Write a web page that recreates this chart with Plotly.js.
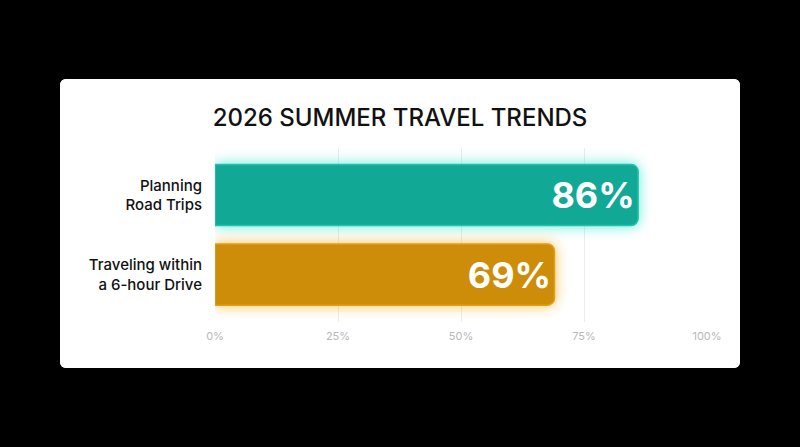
<!DOCTYPE html>
<html>
<head>
<meta charset="utf-8">
<script src="https://cdn.plot.ly/plotly-3.0.1.min.js"></script>
<style>
    html, body {
        margin: 0;
        padding: 0;
        background: #000000;
        width: 800px;
        height: 447px;
        overflow: hidden;
    }
    #card {
        position: absolute;
        left: 60px;
        top: 79px;
        width: 680px;
        height: 289px;
        background: #ffffff;
        border-radius: 6px;
        overflow: hidden;
    }
    #chart {
        width: 680px;
        height: 289px;
    }
    /* soft glow round each bar */
    #chart .barlayer .point:nth-child(1) path {
        filter: drop-shadow(0 0 7px rgba(60, 230, 210, 0.8));
    }
    #chart .barlayer .point:nth-child(2) path {
        filter: drop-shadow(0 0 7px rgba(250, 175, 30, 0.75));
    }
</style>
</head>
<body>
<div id="card"><div id="chart"></div></div>
<script>
'use strict';

// Chart data
let categories = ['Planning<br>Road Trips', 'Traveling within<br>a 6-hour Drive'];
let values = [86, 69];
let barColors = ['#12a896', '#cd8d08'];
let edgeColors = ['#22c2ae', '#e0a010'];
let tickValues = [0, 25, 50, 75, 100];
let tickLabels = ['0%', '25%', '50%', '75%', '100%'];

function makeLabels(data) {
    let arr = [];
    for (let v of data) {
        arr.push(v + '%');
    }
    return arr;
}

let trace = {
    type: 'bar',
    orientation: 'h',
    x: values,
    y: categories,
    text: makeLabels(values),
    textposition: 'inside',
    insidetextanchor: 'end',
    textangle: 0,
    textfont: {
        family: 'Inter, Roboto, sans-serif',
        size: 36,
        color: '#ffffff',
        weight: 700
    },
    marker: {
        color: barColors,
        line: {color: edgeColors, width: 1.5},
        cornerradius: 7
    },
    hoverinfo: 'none'
};

let layout = {
    width: 680,
    height: 289,
    margin: {l: 155, r: 33, t: 69, b: 46},
    paper_bgcolor: '#ffffff',
    plot_bgcolor: '#ffffff',
    showlegend: false,
    bargap: 0.23,
    title: {
        text: '2026 SUMMER TRAVEL TRENDS',
        font: {
            family: 'Inter, Roboto, sans-serif',
            size: 24,
            color: '#111111',
            weight: 500
        },
        x: 0.5,
        xanchor: 'center',
        y: 0.865,
        yanchor: 'middle'
    },
    xaxis: {
        range: [0, 100],
        tickvals: tickValues,
        ticktext: tickLabels,
        showgrid: true,
        gridcolor: '#ebebeb',
        gridwidth: 1,
        zeroline: false,
        showline: false,
        ticks: '',
        ticklabelstandoff: 6,
        tickfont: {
            family: 'Inter, Roboto, sans-serif',
            size: 11,
            color: '#b8b8b8'
        },
        fixedrange: true
    },
    yaxis: {
        type: 'category',
        range: [1.597, -0.591],
        showgrid: false,
        zeroline: false,
        showline: false,
        ticks: '',
        ticklabelstandoff: 12,
        tickfont: {
            family: 'Inter, Roboto, sans-serif',
            size: 15,
            color: '#111111',
            weight: 500
        },
        fixedrange: true
    }
};

let config = {
    displayModeBar: false,
    staticPlot: true
};

Plotly.newPlot('chart', [trace], layout, config);
</script>
</body>
</html>
